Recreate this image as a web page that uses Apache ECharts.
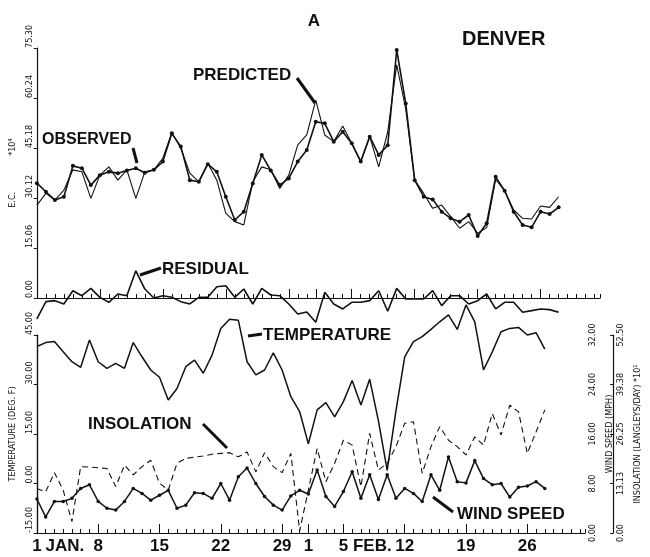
<!DOCTYPE html>
<html>
<head>
<meta charset="utf-8">
<script src="https://cdn.jsdelivr.net/npm/echarts@6/dist/echarts.min.js"></script>
<style>
  html, body { margin: 0; padding: 0; background: #fff; }
  #chart { width: 650px; height: 557px; }
</style>
</head>
<body>
<div id="chart"></div>
<script>
// Daily values, index 0 = Jan 1 ... index 58 = Feb 28
const observed = [34.6, 32.0, 29.5, 30.5, 39.8, 39.1, 34.0, 37.0, 38.0, 37.6,
  38.4, 39.1, 37.7, 38.6, 41.1, 49.6, 45.6, 35.5, 35.0, 40.3,
  38.0, 30.5, 23.5, 26.0, 34.5, 43.1, 38.4, 34.0, 36.0, 41.1,
  44.6, 53.1, 52.6, 47.1, 50.1, 46.6, 41.1, 48.6, 43.1, 46.0,
  74.7, 58.6, 35.5, 30.5, 29.7, 26.0, 24.0, 23.0, 25.0, 18.7,
  22.5, 36.5, 32.3, 26.0, 22.0, 21.3, 26.0, 25.3, 27.3];
const predicted = [28.0, 31.5, 29.5, 32.5, 38.6, 38.0, 30.0, 37.0, 39.5, 35.5,
  38.6, 30.0, 38.0, 38.6, 42.1, 49.8, 45.1, 37.6, 35.0, 40.6,
  35.5, 25.5, 23.0, 22.0, 35.0, 39.5, 38.6, 33.0, 37.0, 46.1,
  49.1, 59.6, 49.1, 47.1, 51.8, 46.6, 41.1, 48.6, 39.5, 50.0,
  70.2, 57.0, 35.5, 31.5, 27.0, 28.0, 24.5, 21.0, 23.0, 19.5,
  21.2, 35.7, 32.3, 26.5, 24.0, 23.8, 27.7, 27.3, 30.5];
const residual = [-6.3, -1.1, -0.8, -1.8, 2.2, 0.7, 2.9, 0.2, -1.3, 1.2,
  0.7, 8.2, 2.7, 0.0, 0.7, 0.2, -1.1, -1.8, 0.2, 0.2,
  3.4, 3.7, 0.2, 2.7, -1.8, 2.9, 0.9, 0.7, -1.8, -4.8,
  -4.2, -7.3, 1.7, -1.8, -3.3, -1.3, -1.3, -0.8, 2.2, -4.0,
  2.9, -0.3, -0.3, -0.3, 2.2, -2.3, 0.7, 0.7, -1.8, -0.8,
  1.2, -3.3, -1.3, -1.3, -4.3, -3.8, -3.3, -3.5, -4.3];
const temperature = [41.5, 42.7, 43.0, 39.9, 36.9, 35.2, 43.5, 36.9, 34.9, 36.4,
  34.9, 42.7, 38.4, 34.4, 32.2, 25.3, 28.8, 35.4, 37.4, 33.4,
  38.9, 47.0, 49.8, 49.5, 36.9, 32.9, 34.4, 39.6, 34.4, 26.3,
  21.8, 12.0, 22.3, 24.5, 20.2, 24.8, 31.2, 23.8, 31.6, 19.0,
  4.0, 22.0, 38.4, 43.0, 44.5, 46.7, 49.0, 51.1, 46.7, 54.1,
  49.0, 34.4, 39.9, 46.0, 47.0, 47.3, 45.0, 45.7, 40.7];
const windSpeed = [5.5, 2.6, 5.1, 5.1, 5.6, 7.2, 7.8, 5.1, 4.0, 3.7,
  5.1, 7.2, 6.4, 5.3, 6.1, 6.9, 4.0, 4.5, 6.5, 6.4,
  5.6, 8.0, 5.3, 9.1, 10.5, 8.0, 5.9, 4.5, 3.7, 6.0,
  6.9, 6.3, 10.2, 5.9, 4.3, 6.7, 9.9, 5.6, 9.4, 5.4,
  9.4, 5.6, 7.2, 6.4, 5.1, 9.4, 6.9, 12.3, 8.3, 8.1,
  11.7, 8.8, 7.8, 8.0, 5.8, 7.4, 7.6, 8.3, 7.2];
const insolation = [11.8, 10.9, 16.0, 11.4, 3.0, 17.6, 17.5, 17.3, 17.1, 12.3,
  18.0, 15.4, 17.6, 19.3, 13.2, 11.4, 18.5, 19.8, 20.1, 20.4,
  20.9, 21.1, 21.3, 20.2, 21.5, 16.2, 21.3, 17.6, 16.0, 21.1,
  0.5, 11.4, 22.4, 13.6, 18.5, 24.6, 23.3, 12.3, 26.4, 16.7,
  18.5, 22.9, 29.1, 29.5, 15.8, 22.9, 28.2, 24.6, 22.9, 20.7,
  25.5, 23.3, 31.7, 26.0, 33.9, 32.1, 21.1, 26.8, 32.6];

// Date axis: day positions and their labels
const dateTicks = [0, 7, 14, 21, 28, 31, 35, 42, 49, 56];
const dateLabels = ['1', '8', '15', '22', '29', '1', '5', '12', '19', '26'];
const monthTicks = [3.2, 38.3];
const monthLabels = ['JAN.', 'FEB.'];

const ink = '#111';
const BOLD = "'Liberation Sans', Arial, sans-serif";
const NARROW = "'Liberation Sans Narrow', 'DejaVu Sans Condensed', 'Liberation Sans', sans-serif";
const pairs = arr => arr.map((v, i) => [i, v]);

function dayAxis(gridIndex, extra) {
  return Object.assign({
    gridIndex, type: 'value', position: 'bottom', min: 0, max: 62.6, interval: 1,
    axisLine: { show: true, onZero: false, lineStyle: { color: ink, width: 1.2 } },
    axisTick: { show: true, inside: true, length: 4, lineStyle: { color: ink, width: 1 } },
    axisLabel: { show: false },
    splitLine: { show: false }
  }, extra || {});
}

// vertical value axes with rotated (bottom-to-top) tick labels
function valueAxis(side, extra) {
  const left = side === 'left';
  return Object.assign({
    type: 'value',
    position: side,
    axisLine: { show: true, lineStyle: { color: ink, width: 1.2 } },
    axisTick: { show: true, inside: !left, length: 3, lineStyle: { color: ink } },
    splitLine: { show: false },
    axisLabel: { rotate: 90, fontSize: 9, fontFamily: NARROW, color: ink, margin: 3,
      align: left ? 'left' : 'center', verticalAlign: left ? 'bottom' : 'top',
      formatter: v => v.toFixed(2) },
    nameLocation: 'middle', nameRotate: 90,
    nameTextStyle: { fontSize: 9, fontFamily: NARROW, color: ink }
  }, extra);
}

const chart = echarts.init(document.getElementById('chart'));

const tallTicks = { show: true, inside: true, length: 9, customValues: dateTicks, lineStyle: { color: ink } };
const hiddenLine = { show: false, onZero: false };

const option = {
  animation: false,
  backgroundColor: '#fff',
  grid: [
    { left: 35, right: 50, top: 48, height: 250 },
    { left: 35, right: 50, top: 335, height: 198 }
  ],
  xAxis: [
    dayAxis(0),
    dayAxis(0, { axisLine: hiddenLine, axisTick: tallTicks }),
    dayAxis(1, {
      axisLabel: { show: true, customValues: dateTicks, margin: 5, fontSize: 17, fontWeight: 'bold',
        fontFamily: BOLD, color: ink,
        formatter: v => dateLabels[dateTicks.indexOf(v)] }
    }),
    dayAxis(1, { axisLine: hiddenLine, axisTick: tallTicks,
      axisLabel: { show: true, customValues: monthTicks, margin: 5, fontSize: 17, fontWeight: 'bold',
        fontFamily: BOLD, color: ink,
        formatter: v => monthLabels[monthTicks.indexOf(v)] } })
  ],
  yAxis: [
    valueAxis('left', { gridIndex: 0, min: 0, max: 75.3, interval: 15.06,
      name: 'E.C.              *10\u2074', nameGap: 12 }),
    valueAxis('left', { gridIndex: 1, min: -15, max: 45, interval: 15,
      name: 'TEMPERATURE (DEG. F)', nameGap: 15 }),
    valueAxis('right', { gridIndex: 1, min: 0, max: 32, interval: 8,
      name: 'WIND SPEED (MPH)', nameGap: 15 }),
    valueAxis('right', { gridIndex: 1, offset: 28, min: 0, max: 52.5, interval: 13.125,
      name: 'INSOLATION (LANGLEYS/DAY) *10\u00b9', nameGap: 15 })
  ],
  series: [
    { name: 'Observed', type: 'line', xAxisIndex: 0, yAxisIndex: 0, data: pairs(observed),
      symbol: 'circle', symbolSize: 4, itemStyle: { color: ink },
      lineStyle: { color: ink, width: 1.6 } },
    { name: 'Predicted', type: 'line', xAxisIndex: 0, yAxisIndex: 0, data: pairs(predicted),
      symbol: 'none', lineStyle: { color: ink, width: 1.1 } },
    { name: 'Residual', type: 'line', xAxisIndex: 0, yAxisIndex: 0, data: pairs(residual),
      symbol: 'none', clip: false, lineStyle: { color: ink, width: 1.6 } },
    { name: 'Temperature', type: 'line', xAxisIndex: 2, yAxisIndex: 1, data: pairs(temperature),
      symbol: 'none', clip: false, lineStyle: { color: ink, width: 1.5 } },
    { name: 'Wind speed', type: 'line', xAxisIndex: 2, yAxisIndex: 2, data: pairs(windSpeed),
      symbol: 'circle', symbolSize: 3.5, itemStyle: { color: ink },
      lineStyle: { color: ink, width: 1.5 } },
    { name: 'Insolation', type: 'line', xAxisIndex: 2, yAxisIndex: 3, data: pairs(insolation),
      symbol: 'none', lineStyle: { color: ink, width: 1.1, type: [6, 4] } }
  ],
  graphic: [
    { type: 'text', x: 314, y: 21, style: { text: 'A', font: "bold 17px 'Liberation Sans'", fill: ink, align: 'center', verticalAlign: 'middle' } },
    { type: 'text', x: 462, y: 39, style: { text: 'DENVER', font: "bold 20px 'Liberation Sans'", fill: ink, verticalAlign: 'middle' } },
    { type: 'text', x: 193, y: 75, style: { text: 'PREDICTED', font: "bold 17px 'Liberation Sans'", fill: ink, verticalAlign: 'middle' } },
    { type: 'text', x: 42, y: 140, style: { text: 'OBSERVED', font: "bold 16px 'Liberation Sans'", fill: ink, verticalAlign: 'middle' } },
    { type: 'text', x: 162, y: 269, style: { text: 'RESIDUAL', font: "bold 17px 'Liberation Sans'", fill: ink, verticalAlign: 'middle' } },
    { type: 'text', x: 263, y: 335, style: { text: 'TEMPERATURE', font: "bold 17px 'Liberation Sans'", fill: ink, verticalAlign: 'middle' } },
    { type: 'text', x: 88, y: 424, style: { text: 'INSOLATION', font: "bold 17px 'Liberation Sans'", fill: ink, verticalAlign: 'middle' } },
    { type: 'text', x: 457, y: 514, style: { text: 'WIND SPEED', font: "bold 17px 'Liberation Sans'", fill: ink, verticalAlign: 'middle' } },
    // leader lines from labels to their curves
    { type: 'line', shape: { x1: 297, y1: 78, x2: 315, y2: 103 }, style: { stroke: ink, lineWidth: 3 } },
    { type: 'line', shape: { x1: 133, y1: 148, x2: 137, y2: 163 }, style: { stroke: ink, lineWidth: 3 } },
    { type: 'line', shape: { x1: 140, y1: 275, x2: 161, y2: 268 }, style: { stroke: ink, lineWidth: 3 } },
    { type: 'line', shape: { x1: 248, y1: 336, x2: 262, y2: 334 }, style: { stroke: ink, lineWidth: 3 } },
    { type: 'line', shape: { x1: 203, y1: 424, x2: 227, y2: 448 }, style: { stroke: ink, lineWidth: 3 } },
    { type: 'line', shape: { x1: 433, y1: 497, x2: 453, y2: 512 }, style: { stroke: ink, lineWidth: 3 } }
  ]
};

chart.setOption(option);
</script>
</body>
</html>
